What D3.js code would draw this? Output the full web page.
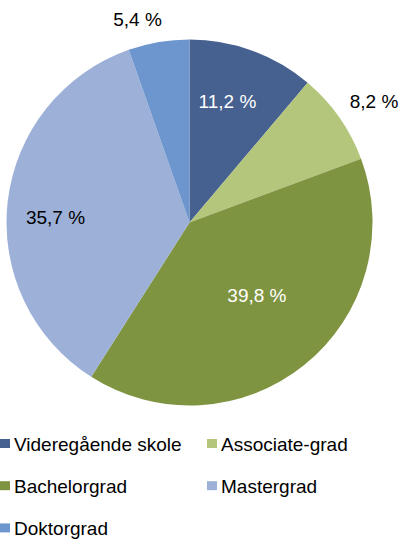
<!DOCTYPE html>
<html>
<head>
<meta charset="utf-8">
<script src="https://cdn.jsdelivr.net/npm/d3@7"></script>
<style>
  body { margin: 0; background: #fff; }
  svg { display: block; font-family: "Liberation Sans", Arial, sans-serif; }
</style>
</head>
<body>
<script>
// Data
var categories = ["Videregående skole", "Associate-grad", "Bachelorgrad", "Mastergrad", "Doktorgrad"];
var values = [11.2, 8.2, 39.8, 35.7, 5.4];
var labels = ["11,2 %", "8,2 %", "39,8 %", "35,7 %", "5,4 %"];

// Styles
var colors = ["#46608f", "#b3c67c", "#7f9440", "#9db0d7", "#6e96ce"];
var labelColors = ["#fff", "#000", "#fff", "#000", "#000"];
var labelRadius = [0.69, 1.2, 0.52, 0.74, 1.15];
// small nudges so labels sit where the original put them
var labelNudge = [[-5.4, -2.4], [4.8, 5.3], [7.6, -1], [0.5, 10.3], [-16.6, 4.5]];

var svgWidth = 400;
var svgHeight = 551;
var cx = 189.5, cy = 222.5, radius = 183;

var svg = d3.select("body")
  .append("svg")
  .attr("width", svgWidth)
  .attr("height", svgHeight);

var pieGroup = svg.append("g")
  .attr("transform", `translate(${cx}, ${cy})`);

var pie = d3.pie().sort(null).value(d => d);
var arcs = pie(values);

var arc = d3.arc().innerRadius(0).outerRadius(radius);

pieGroup.selectAll("path")
  .data(arcs)
  .enter()
  .append("path")
  .attr("d", arc)
  .attr("fill", (d, i) => colors[i]);

// Slice labels
pieGroup.selectAll("text.label")
  .data(arcs)
  .enter()
  .append("text")
  .attr("class", "label")
  .attr("x", (d, i) => {
    var a = (d.startAngle + d.endAngle) / 2;
    return Math.sin(a) * radius * labelRadius[i] + labelNudge[i][0];
  })
  .attr("y", (d, i) => {
    var a = (d.startAngle + d.endAngle) / 2;
    return -Math.cos(a) * radius * labelRadius[i] + labelNudge[i][1];
  })
  .attr("dy", "0.35em")
  .attr("text-anchor", "middle")
  .attr("font-size", 19)
  .attr("fill", (d, i) => labelColors[i])
  .text((d, i) => labels[i]);

// Legend
var legend = svg.append("g");
var legendItems = legend.selectAll("g")
  .data(categories)
  .enter()
  .append("g")
  .attr("transform", (d, i) => `translate(${(i % 2) * 207}, ${443 + Math.floor(i / 2) * 42.2})`);

legendItems.append("rect")
  .attr("x", 0)
  .attr("y", -4)
  .attr("width", 10)
  .attr("height", 9)
  .attr("fill", (d, i) => colors[i]);

legendItems.append("text")
  .attr("x", 14)
  .attr("y", 7.5)
  .attr("font-size", 19)
  .attr("fill", "#000")
  .text(d => d);
</script>
</body>
</html>
